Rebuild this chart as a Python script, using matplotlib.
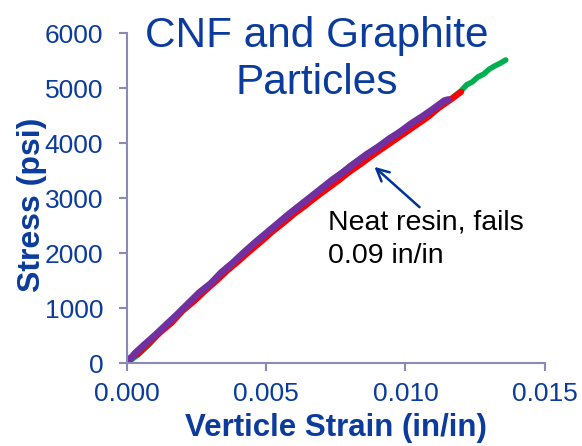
import matplotlib
matplotlib.use("Agg")
import matplotlib.pyplot as plt

plt.rcParams['font.family'] = ['Liberation Sans', 'DejaVu Sans']

# strain (in/in) and stress (psi)
purple_strain = [0.0000, 0.0003, 0.0006, 0.0010, 0.0014, 0.0018, 0.0022, 0.0026, 0.0030,
                 0.0034, 0.0038, 0.0042, 0.0046, 0.0050, 0.0054, 0.0058, 0.0062, 0.0066,
                 0.0070, 0.0074, 0.0078, 0.0082, 0.0086, 0.0090, 0.0094, 0.0098, 0.0102,
                 0.0106, 0.0110, 0.0114, 0.01155]
purple_stress = [0, 180, 320, 500, 690, 880, 1080, 1280, 1440,
                 1650, 1820, 2010, 2190, 2360, 2530, 2700, 2860, 3020,
                 3180, 3340, 3480, 3640, 3790, 3920, 4070, 4200, 4350,
                 4480, 4620, 4770, 4790]

red_strain = [0.0000, 0.0004, 0.0008, 0.0012, 0.0016, 0.0020, 0.0024, 0.0028, 0.0032,
              0.0036, 0.0040, 0.0044, 0.0048, 0.0052, 0.0056, 0.0060, 0.0064, 0.0068,
              0.0072, 0.0076, 0.0080, 0.0084, 0.0088, 0.0092, 0.0096, 0.0100, 0.0104,
              0.0108, 0.0112, 0.0116, 0.0120]
red_stress = [60, 170, 360, 560, 730, 950, 1120, 1310, 1490,
              1680, 1850, 2030, 2200, 2380, 2540, 2710, 2860, 3020,
              3170, 3320, 3480, 3620, 3770, 3910, 4050, 4190, 4330,
              4470, 4640, 4780, 4930]

green_strain = [0.0000, 0.0004, 0.0008, 0.0012, 0.0016, 0.0020, 0.0024, 0.0028, 0.0032,
                0.0036, 0.0040, 0.0044, 0.0048, 0.0052, 0.0056, 0.0060, 0.0064, 0.0068,
                0.0072, 0.0076, 0.0080, 0.0084, 0.0088, 0.0092, 0.0096, 0.0100, 0.0104,
                0.0108, 0.0112, 0.0116, 0.0120, 0.0122, 0.0124, 0.0126, 0.0128, 0.0130,
                0.0132, 0.0134, 0.0136]
green_stress = [0, 150, 340, 580, 760, 960, 1150, 1330, 1500,
                1690, 1860, 2040, 2210, 2390, 2550, 2720, 2870, 3030,
                3180, 3330, 3490, 3630, 3780, 3920, 4060, 4200, 4340,
                4480, 4650, 4790, 4950, 5060, 5110, 5200, 5250, 5340,
                5400, 5450, 5510]

navy_strain = [0.0000, 0.0010, 0.0020, 0.0030, 0.0040, 0.0050, 0.0060, 0.0070, 0.0080, 0.0090]
navy_stress = [0, 470, 960, 1440, 1910, 2350, 2780, 3170, 3580, 3930]

x_ticks = [0.000, 0.005, 0.010, 0.015]
y_ticks = [0, 1000, 2000, 3000, 4000, 5000, 6000]

blue = '#0b3b9c'
spine = '#8a8ab8'

fig = plt.figure(figsize=(5.82, 4.46), dpi=100)
ax = fig.add_axes([0.218, 0.186, 0.718, 0.740])

ax.plot(navy_strain, navy_stress, color='#002060', lw=4)
ax.plot(green_strain, green_stress, color='#00b050', lw=4, solid_capstyle='round')
ax.plot(red_strain, red_stress, color='#ff0000', lw=4.5, solid_capstyle='round')
ax.plot(purple_strain, purple_stress, color='#7030a0', lw=5, solid_capstyle='round')

ax.set_xlim(0, 0.015)
ax.set_ylim(0, 6000)
ax.set_xticks(x_ticks)
ax.set_yticks(y_ticks)
ax.set_xticklabels([f"{v:.3f}" for v in x_ticks])
ax.set_yticklabels([str(v) for v in y_ticks])

for s in ['top', 'right']:
    ax.spines[s].set_visible(False)
for s in ['left', 'bottom']:
    ax.spines[s].set_color(spine)
    ax.spines[s].set_linewidth(1.5)
ax.tick_params(direction='out', length=6, width=1.5, color=spine,
               labelsize=19, labelcolor=blue)
ax.tick_params(axis='x', pad=8)
ax.tick_params(axis='y', pad=11)

ax.set_xlabel('Verticle Strain (in/in)', fontsize=22.5, fontweight='bold', color=blue, labelpad=5)
ax.set_ylabel('Stress (psi)', fontsize=23, fontweight='bold', color=blue)
ax.yaxis.set_label_coords(-0.19, 0.48)

fig.text(0.545, 0.965, 'CNF and Graphite\nParticles', ha='center', va='top',
         fontsize=30.5, color=blue, linespacing=1.25)

ax.annotate('', xy=(0.00881, 3600), xytext=(0.01058, 2800),
            arrowprops=dict(arrowstyle='->', color='#003399', lw=1.8, mutation_scale=22))
ax.text(0.00723, 2800, 'Neat resin, fails\n0.09 in/in', fontsize=20.5, color='black',
        va='top', ha='left', linespacing=1.4)

fig.savefig('out.png', dpi=100)
